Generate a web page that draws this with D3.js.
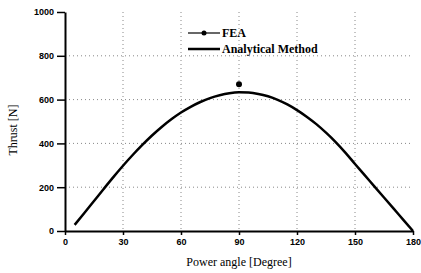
<!DOCTYPE html>
<html>
<head>
<meta charset="utf-8">
<script src="https://cdn.jsdelivr.net/npm/d3@7"></script>
<style>
body { margin: 0; background: #fff; }
</style>
</head>
<body>
<script>
var width = 348;
var height = 219;
var margin = {top: 12, right: 8, bottom: 42, left: 65};

var angles = [5, 10, 15, 20, 25, 30, 35, 40, 45, 50, 55, 60, 65, 70, 75, 80, 85, 90,
	95, 100, 105, 110, 115, 120, 125, 130, 135, 140, 145, 150, 155, 160, 165, 170, 175, 180];
var thrust = [28, 82, 137, 192, 246, 298, 347, 393, 436, 475, 510, 541, 567, 589, 607, 620, 629, 633,
	632, 626, 615, 599, 578, 552, 522, 488, 449, 406, 358, 306, 255, 204, 153, 102, 51, 0];
var feaAngles = [90];
var feaThrust = [670];
var xTicks = [0, 30, 60, 90, 120, 150, 180];
var yTicks = [0, 200, 400, 600, 800, 1000];

var svg = d3.select("body")
	.append("svg")
		.attr("width", 421)
		.attr("height", 273);

var g = svg.append("g")
	.attr("transform", "translate(" + margin.left + ", " + margin.top + ")");

var x = d3.scaleLinear()
	.domain([0, 180])
	.range([0, width]);

var y = d3.scaleLinear()
	.domain([0, 1000])
	.range([height, 0]);

// dotted grid
g.selectAll(".vgrid").data(xTicks.slice(1, 6))
	.enter()
	.append("line")
	.attr("x1", (d) => { return x(d); })
	.attr("x2", (d) => { return x(d); })
	.attr("y1", 0)
	.attr("y2", height)
	.attr("stroke", "#888")
	.attr("stroke-width", 1)
	.attr("stroke-dasharray", "1,3");

g.selectAll(".hgrid").data(yTicks.slice(1, 5))
	.enter()
	.append("line")
	.attr("x1", 0)
	.attr("x2", width)
	.attr("y1", (d) => { return y(d); })
	.attr("y2", (d) => { return y(d); })
	.attr("stroke", "#888")
	.attr("stroke-width", 1)
	.attr("stroke-dasharray", "1,3");

var bottomAxis = d3.axisBottom(x)
	.tickValues(xTicks)
	.tickFormat(d3.format("d"))
	.tickSizeInner(4)
	.tickSizeOuter(0)
	.tickPadding(4);

var xg = g.append("g")
	.attr("class", "x axis")
	.attr("transform", "translate(0, " + height + ")")
	.call(bottomAxis);

var leftAxis = d3.axisLeft(y)
	.tickValues(yTicks)
	.tickFormat(d3.format("d"))
	.tickSizeInner(8)
	.tickSizeOuter(0)
	.tickPadding(3);

var yg = g.append("g")
	.attr("class", "left axis")
	.call(leftAxis);

svg.selectAll(".axis path").attr("stroke", "#000").attr("stroke-width", 2);
svg.selectAll(".axis line").attr("stroke", "#000").attr("stroke-width", 1.5);
svg.selectAll(".axis text")
	.attr("font-family", "Liberation Sans, Arial, sans-serif")
	.attr("font-weight", "bold")
	.attr("font-size", "9px")
	.attr("fill", "#000");

// curve
var line = d3.line()
	.x((d, i) => { return x(angles[i]); })
	.y((d) => { return y(d); })
	.curve(d3.curveMonotoneX);

g.append("path")
	.datum(thrust)
	.attr("d", line)
	.attr("fill", "none")
	.attr("stroke", "#000")
	.attr("stroke-width", 2.5);

g.selectAll(".fea").data(feaThrust)
	.enter()
	.append("circle")
	.attr("cx", (d, i) => { return x(feaAngles[i]); })
	.attr("cy", (d) => { return y(d); })
	.attr("r", 3)
	.attr("fill", "#000");

// legend
var legend = svg.append("g")
	.attr("transform", "translate(188, 33)");

legend.append("line")
	.attr("x1", 0).attr("x2", 32)
	.attr("y1", 0).attr("y2", 0)
	.attr("stroke", "#000").attr("stroke-width", 1.2);
legend.append("circle")
	.attr("cx", 16).attr("cy", 0).attr("r", 2.5)
	.attr("fill", "#000");
legend.append("text")
	.attr("x", 34).attr("y", 4)
	.attr("font-family", "Liberation Serif, Times New Roman, serif")
	.attr("font-size", "12px")
	.attr("font-weight", "bold")
	.text("FEA");

legend.append("line")
	.attr("x1", 0).attr("x2", 32)
	.attr("y1", 16).attr("y2", 16)
	.attr("stroke", "#000").attr("stroke-width", 2.5);
legend.append("text")
	.attr("x", 34).attr("y", 20)
	.attr("font-family", "Liberation Serif, Times New Roman, serif")
	.attr("font-size", "12px")
	.attr("font-weight", "bold")
	.text("Analytical Method");

// axis labels
svg.append("text")
	.attr("x", -130)
	.attr("y", 17)
	.attr("font-size", "12px")
	.attr("font-family", "Liberation Serif, Times New Roman, serif")
	.attr("text-anchor", "middle")
	.attr("transform", "rotate(-90)")
	.style("fill", "black")
	.text("Thrust [N]");

svg.append("text")
	.attr("x", 239)
	.attr("y", 266)
	.attr("font-size", "12px")
	.attr("font-family", "Liberation Serif, Times New Roman, serif")
	.attr("text-anchor", "middle")
	.style("fill", "black")
	.text("Power angle [Degree]");
</script>
</body>
</html>
